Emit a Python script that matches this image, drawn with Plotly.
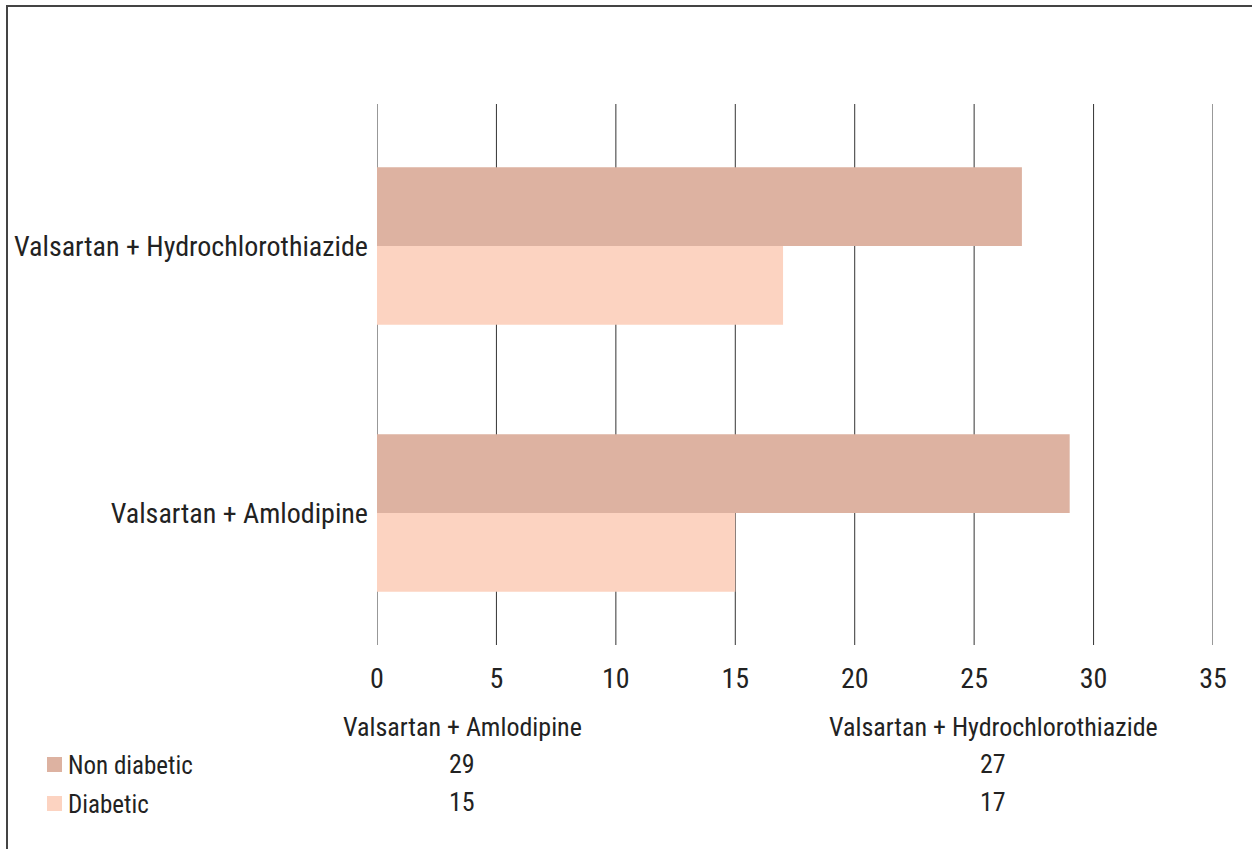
import plotly.graph_objects as go

categories = ["Valsartan + Amlodipine", "Valsartan + Hydrochlorothiazide"]
non_diabetic = [29, 27]
diabetic = [15, 17]
series_names = ["Non diabetic", "Diabetic"]
x_ticks = [0, 5, 10, 15, 20, 25, 30, 35]

COL_ND = "#DDB2A1"
COL_D = "#FCD3C1"
TXT = "#222222"
FONT = "Liberation Sans Narrow, Arial Narrow, Roboto Condensed, sans-serif"

W, H = 1252, 849
L, R, T, B = 377, 39, 104, 204
PW, PH = W - L - R, H - T - B


def px(x):
    return (x - L) / PW


def py(y):
    return (H - B - y) / PH


fig = go.Figure()
fig.add_trace(go.Bar(y=categories, x=diabetic, name=series_names[1], orientation="h",
                     marker=dict(color=COL_D, line=dict(width=0))))
fig.add_trace(go.Bar(y=categories, x=non_diabetic, name=series_names[0], orientation="h",
                     marker=dict(color=COL_ND, line=dict(width=0))))

fig.update_layout(
    width=W, height=H,
    margin=dict(l=L, r=R, t=T, b=B),
    paper_bgcolor="white", plot_bgcolor="white",
    barmode="group", bargap=0.41, bargroupgap=0,
    showlegend=False,
    font=dict(family=FONT, color=TXT, size=24),
    xaxis=dict(range=[0, 35], tickvals=x_ticks, showgrid=False,
               zeroline=False, showline=False, ticks="",
               tickfont=dict(size=28, family=FONT, color=TXT), ticklabelstandoff=14),
    yaxis=dict(type="category", range=[-0.494, 1.532], showgrid=False, zeroline=False,
               showline=False, ticks="", tickfont=dict(size=28, family=FONT, color=TXT),
               ticklabelstandoff=8),
)

# vertical gridlines (including both ends of the axis)
for t in x_ticks:
    fig.add_shape(type="line", xref="x", yref="paper", x0=t, x1=t, y0=0, y1=1,
                  line=dict(color="#333333", width=1), layer="below")

# outer frame
fig.add_shape(type="rect", xref="paper", yref="paper",
              x0=px(7), y0=py(900), x1=px(1300), y1=py(6),
              line=dict(color="#444444", width=2), fillcolor="rgba(0,0,0,0)", layer="below")

# data table below the chart
col_x = [462, 993]
for cx, cat, nd, d in zip(col_x, categories, non_diabetic, diabetic):
    fig.add_annotation(x=px(cx), y=py(727), xref="paper", yref="paper", text=cat,
                       showarrow=False, xanchor="center", yanchor="middle",
                       font=dict(size=26, family=FONT, color=TXT))
    fig.add_annotation(x=px(cx), y=py(764), xref="paper", yref="paper", text=str(nd),
                       showarrow=False, xanchor="center", yanchor="middle",
                       font=dict(size=26, family=FONT, color=TXT))
    fig.add_annotation(x=px(cx), y=py(802), xref="paper", yref="paper", text=str(d),
                       showarrow=False, xanchor="center", yanchor="middle",
                       font=dict(size=26, family=FONT, color=TXT))

for name, col, yc in [(series_names[0], COL_ND, 765), (series_names[1], COL_D, 804)]:
    fig.add_shape(type="rect", xref="paper", yref="paper",
                  x0=px(47), x1=px(62), y0=py(yc + 7), y1=py(yc - 8),
                  fillcolor=col, line=dict(width=0))
    fig.add_annotation(x=px(66), y=py(yc), xref="paper", yref="paper", text=name,
                       showarrow=False, xanchor="left", yanchor="middle",
                       font=dict(size=25, family=FONT, color=TXT))

fig.write_html("out.html")
